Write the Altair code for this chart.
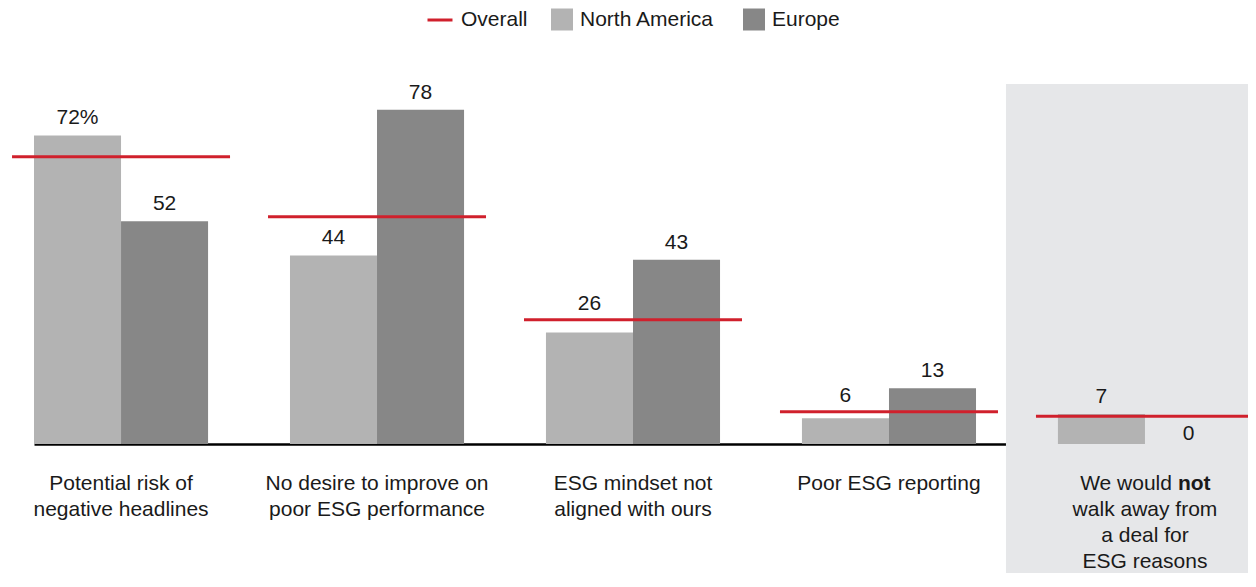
import altair as alt
import pandas as pd

# ---- data ----
categories = [
    "Potential risk of negative headlines",
    "No desire to improve on poor ESG performance",
    "ESG mindset not aligned with ours",
    "Poor ESG reporting",
    "We would not walk away from a deal for ESG reasons",
]
label_lines = [
    "Potential risk of\nnegative headlines",
    "No desire to improve on\npoor ESG performance",
    "ESG mindset not\naligned with ours",
    "Poor ESG reporting",
    "\nwalk away from\na deal for\nESG reasons",
]
highlight_prefix = "We would"
highlight_word = "not"
regions = ["North America", "Europe"]
north_america = [72, 44, 26, 6, 7]
europe = [52, 78, 43, 13, 0]
overall = [67, 53, 29, 7.5, 6.5]
overall_name = "Overall"
highlight_category = categories[-1]

# ---- style ----
FONT = "Liberation Sans"
RED = "#d0202c"
NA_COL = "#b3b3b3"
EU_COL = "#878787"
BG_COL = "#e6e7e9"
TXT = "#1a1a1a"
W, H = 1198, 360
Y_MAX = 84
PX = H / Y_MAX  # pixels per percentage point
GAP = 11        # label gap above a bar (px)
CAP = 15        # approximate label glyph height (px)

rows = []
for i, c in enumerate(categories):
    for r, vals in zip(regions, [north_america, europe]):
        v = vals[i]
        lab = f"{v}%" if (i == 0 and r == regions[0]) else str(v)
        # label placement: above the bar, lifted above the Overall line if they would collide
        bar_px = v * PX
        bottom = bar_px + GAP
        top = bottom + CAP
        line_px = overall[i] * PX
        if v == 0:
            pos = 4 / PX
        elif bottom - 6 <= line_px <= top + 1:
            pos = overall[i] + 10 / PX
        else:
            pos = v + GAP / PX
        rows.append({"category": c, "region": r, "value": v, "label": lab, "label_pos": pos})
bar_df = pd.DataFrame(rows)
ov_df = pd.DataFrame({"category": categories, "overall": overall, "series": [overall_name] * len(categories)})
cat_df = pd.DataFrame({"category": categories, "text": label_lines})
hl_df = pd.DataFrame({"category": [highlight_category], "prefix": [highlight_prefix], "word": [highlight_word]})

x_scale = alt.Scale(domain=categories, paddingInner=0.32, paddingOuter=0)
y_scale = alt.Scale(domain=[0, Y_MAX], nice=False, zero=True)
X = alt.X("category:N", scale=x_scale, sort=categories,
          axis=alt.Axis(labels=False, ticks=False, title=None, domainColor="black", domainWidth=2.5, grid=False))
XO = alt.XOffset("region:N", sort=regions, scale=alt.Scale(domain=regions, paddingInner=0, paddingOuter=0))
Y = alt.Y("value:Q", scale=y_scale, axis=None)

bg = alt.Chart(hl_df).mark_bar(color=BG_COL, width=250, xOffset=-14).encode(
    x=X, y=alt.value(0), y2=alt.value(H + 140)
)

bars = alt.Chart(bar_df).mark_bar(opacity=1).encode(
    x=X, xOffset=XO, y=Y,
    color=alt.Color("region:N", sort=regions,
                    scale=alt.Scale(domain=regions, range=[NA_COL, EU_COL]),
                    legend=alt.Legend(orient="none", legendX=517, legendY=-75.5, direction="horizontal",
                                      title=None, symbolType="square", symbolSize=484, symbolStrokeWidth=0,
                                      symbolOpacity=1,
                                      labelFont=FONT, labelFontSize=21, labelColor=TXT, labelOffset=7,
                                      columnPadding=28, padding=0)),
)

ticks = alt.Chart(ov_df).mark_tick(size=218, thickness=3, opacity=1).encode(
    x=X, y=alt.Y("overall:Q", scale=y_scale, axis=None),
    color=alt.Color("series:N", scale=alt.Scale(domain=[overall_name], range=[RED]),
                    legend=alt.Legend(orient="none", legendX=392, legendY=-78, direction="horizontal",
                                      title=None, symbolType="stroke", symbolSize=625, symbolStrokeWidth=3,
                                      symbolStrokeColor=RED, symbolOpacity=1, labelFont=FONT, labelFontSize=21,
                                      labelColor=TXT, labelOffset=7, padding=0)),
)

vlabels = alt.Chart(bar_df).mark_text(font=FONT, fontSize=21, color=TXT, baseline="alphabetic").encode(
    x=X, xOffset=XO, y=alt.Y("label_pos:Q", scale=y_scale, axis=None), text="label:N"
)

cat_text = alt.Chart(cat_df).mark_text(font=FONT, fontSize=21, color=TXT, baseline="alphabetic",
                                       lineBreak="\n", lineHeight=26).encode(
    x=X, y=alt.value(406), text="text:N"
)

hl_prefix = alt.Chart(hl_df).mark_text(font=FONT, fontSize=21, color=TXT, baseline="alphabetic",
                                       align="right", dx=27).encode(
    x=X, y=alt.value(406), text="prefix:N"
)
hl_word = alt.Chart(hl_df).mark_text(font=FONT, fontSize=21, color=TXT, baseline="alphabetic",
                                     align="left", dx=33, fontWeight="bold").encode(
    x=X, y=alt.value(406), text="word:N"
)

chart = alt.layer(bg, bars, ticks, vlabels, cat_text, hl_prefix, hl_word).resolve_scale(
    color="independent"
).properties(
    width=W, height=H,
    autosize=alt.AutoSizeParams(type="none"),
    padding={"left": 26, "top": 76, "right": 16, "bottom": 129},
).configure_view(stroke=None)

chart.save("out.html", embed_options={"renderer": "svg", "actions": False})
